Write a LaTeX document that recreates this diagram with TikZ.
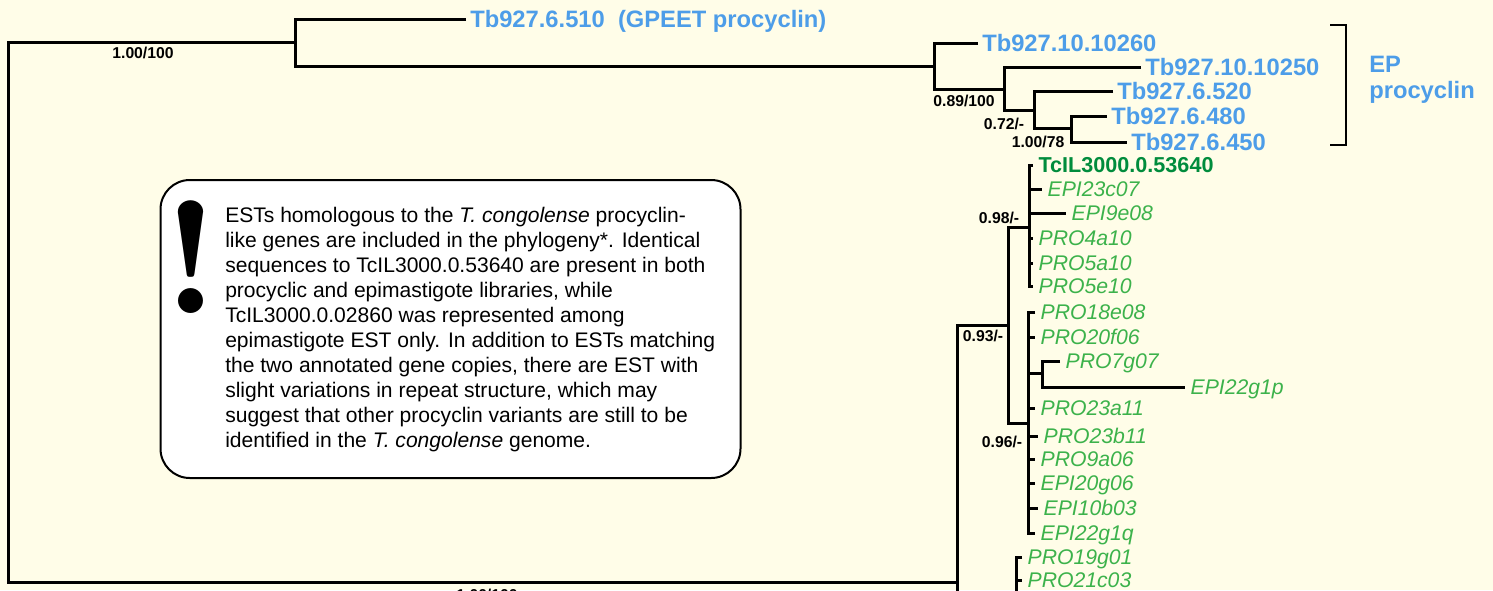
\documentclass[tikz,border=0pt]{standalone}
\usepackage{fontspec}
\setmainfont{Liberation Sans}
\newfontfamily\lmdemi{lmromandemi10-regular}[Extension=.otf]
\definecolor{bg}{RGB}{255,253,232}
\definecolor{tbblue}{RGB}{77,157,232}
\definecolor{estgreen}{RGB}{60,178,75}
\definecolor{tcgreen}{RGB}{0,140,60}
\begin{document}
\begin{tikzpicture}[x=0.75pt,y=-0.75pt,
  br/.style={line width=2.25pt, line join=miter},
  tb/.style={text=tbblue, font=\bfseries\fontsize{17.8}{20}\selectfont, anchor=base west, inner xsep=3pt, inner ysep=0pt, yshift=-6.3pt},
  est/.style={text=estgreen, font=\itshape\fontsize{15.9}{18}\selectfont, anchor=base west, inner xsep=4pt, inner ysep=0pt, yshift=-5.7pt},
  tc/.style={text=tcgreen, font=\bfseries\fontsize{16.2}{19}\selectfont, anchor=base west, inner xsep=4pt, inner ysep=0pt, yshift=-5.8pt},
  sup/.style={font=\bfseries\fontsize{11.8}{13}\selectfont, inner sep=0pt}]
\fill[bg] (0,0) rectangle (1493,590);
\clip (0,0) rectangle (1493,590);

% ---- internal nodes (Trypanosoma brucei part)
\coordinate (R) at (8,300);
\coordinate (N1) at (295,42);
\coordinate (N2) at (934,66);
\coordinate (N3) at (1004,89);
\coordinate (N4) at (1034,110);
\coordinate (N5) at (1071,128);
% tips
\coordinate (tG) at (466,19);
\coordinate (t60) at (978,43);
\coordinate (t50) at (1141,67);
\coordinate (t520) at (1113,91);
\coordinate (t480) at (1107,116);
\coordinate (t450) at (1127,142);

\node[tb] (lG) at (tG) {Tb927.6.510~~(GPEET procyclin)};
\node[tb] (l60) at (t60) {Tb927.10.10260};
\node[tb] (l50) at (t50) {Tb927.10.10250};
\node[tb] (l520) at (t520) {Tb927.6.520};
\node[tb] (l480) at (t480) {Tb927.6.480};
\node[tb] (l450) at (t450) {Tb927.6.450};

\draw[br] (tG) -| (N1) |- (N2);
\draw[br] (t60) -| (N2) |- (N3);
\draw[br] (t50) -| (N3) |- (N4);
\draw[br] (t520) -| (N4) |- (N5);
\draw[br] (t480) -| (N5) |- (t450);

% ---- congolense part
\coordinate (G1) at (957,582);
\coordinate (G1b) at (957,600);
\coordinate (GA) at (1008,325);
\coordinate (GC) at (1029,227);
\coordinate (GD) at (1028,423);
\coordinate (GE) at (1042,373);
\coordinate (GB) at (1016,600);

\draw[br] (N1) -| (R) |- (G1);
\draw[br] (G1b) |- (GA);
\draw[br] (GC) -| (GA) |- (GD);

% clade GC
\coordinate (c1) at (1033,165);
\coordinate (c2) at (1042,189);
\coordinate (c3) at (1066,213);
\coordinate (c4) at (1033,238);
\coordinate (c5) at (1033,263);
\coordinate (c6) at (1033,286);
\draw[br] (c1) -| (GC) |- (c6);
\foreach \c in {c2,c3,c4,c5} \draw[br] (GC|-\c) -- (\c);
\node[tc] (lc1) at (c1) {TcIL3000.0.53640};
\node[est] (lc2) at (c2) {EPI23c07};
\node[est] (lc3) at (c3) {EPI9e08};
\node[est] (lc4) at (c4) {PRO4a10};
\node[est] (lc5) at (c5) {PRO5a10};
\node[est] (lc6) at (c6) {PRO5e10};

% clade GD
\coordinate (d1) at (1035,312);
\coordinate (d2) at (1035,337);
\coordinate (e1) at (1060,361);
\coordinate (e2) at (1185,387);
\coordinate (d3) at (1035,408);
\coordinate (d4) at (1038,436);
\coordinate (d5) at (1035,459);
\coordinate (d6) at (1035,483);
\coordinate (d7) at (1038,508);
\coordinate (d8) at (1035,533);
\draw[br] (d1) -| (GD) |- (d8);
\foreach \c in {d2,GE,d3,d4,d5,d6,d7} \draw[br] (GD|-\c) -- (\c);
\draw[br] (e1) -| (GE) |- (e2);
\node[est] (ld1) at (d1) {PRO18e08};
\node[est] (ld2) at (d2) {PRO20f06};
\node[est] (le1) at (e1) {PRO7g07};
\node[est] (le2) at (e2) {EPI22g1p};
\node[est] (ld3) at (d3) {PRO23a11};
\node[est] (ld4) at (d4) {PRO23b11};
\node[est] (ld5) at (d5) {PRO9a06};
\node[est] (ld6) at (d6) {EPI20g06};
\node[est] (ld7) at (d7) {EPI10b03};
\node[est] (ld8) at (d8) {EPI22g1q};

% clade GB
\coordinate (b1) at (1022,557);
\coordinate (b2) at (1022,580);
\draw[br] (b1) -| (GB);
\draw[br] (GB|-b2) -- (b2);
\node[est] (lb1) at (b1) {PRO19g01};
\node[est] (lb2) at (b2) {PRO21c03};

% ---- support values
\node[sup] (s1) at (143,53) {1.00/100};
\node[sup] (s2) at (487,595) {1.00/100};
\node[sup] (s3) at (964,101) {0.89/100};
\node[sup] (s4) at (1004,124) {0.72/-};
\node[sup] (s5) at (1038,142) {1.00/78};
\node[sup] (s6) at (999,218) {0.98/-};
\node[sup] (s7) at (983,336) {0.93/-};
\node[sup] (s8) at (1002,442) {0.96/-};

% ---- EP procyclin bracket
\draw[line width=1.1pt] (1330,25) -- (1346,25) -- (1346,145) -- (1330,145);
\node[text=tbblue, font=\bfseries\fontsize{17.8}{19.5}\selectfont, align=left, anchor=west, inner sep=0pt] (ep) at (1369,80) {EP\\procyclin};

% ---- note box
\node[draw, fill=white, line width=1.5pt, rounded corners=22pt, minimum width=435pt, minimum height=223.5pt, inner sep=0pt] (note) at (450.5,329) {};
\node[font=\lmdemi\fontsize{120}{120}\selectfont, anchor=base, inner sep=0pt] (excl) at (191,313) {!};
\node[font=\fontsize{15.8}{18.75}\selectfont, align=left, anchor=north west, inner sep=0pt] (notetext) at (225,207) {%
ESTs homologous to the \textit{T. congolense} procyclin-\\
like genes are included in the phylogeny*. Identical\\
sequences to TcIL3000.0.53640 are present in both\\
procyclic and epimastigote libraries, while\\
TcIL3000.0.02860 was represented among\\
epimastigote EST only. In addition to ESTs matching\\
the two annotated gene copies, there are EST with\\
slight variations in repeat structure, which may\\
suggest that other procyclin variants are still to be\\
identified in the \textit{T. congolense} genome.};
\end{tikzpicture}
\end{document}
